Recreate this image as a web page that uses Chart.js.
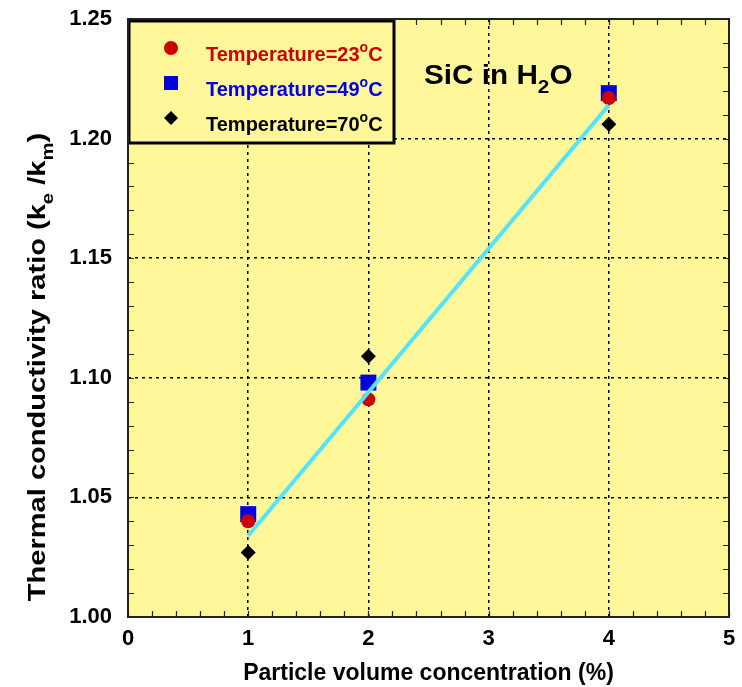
<!DOCTYPE html>
<html>
<head>
<meta charset="utf-8">
<script src="https://cdn.jsdelivr.net/npm/chart.js@4"></script>
<style>
  html, body { margin: 0; padding: 0; background: #fff; }
  #wrap { width: 742px; height: 687px; }
</style>
</head>
<body>
<div id="wrap"><canvas id="chart" width="742" height="687"></canvas></div>
<script>
// concentrations (%) and ratios k_e/k_m
const concentrations = [1, 2, 4];
const temp23 = [1.040, 1.091, 1.217];
const temp49 = [1.043, 1.098, 1.219];
const temp70 = [1.027, 1.109, 1.206];
const fitX = [1, 4];
const fitY = [1.034, 1.214];
const xTicks = [0, 1, 2, 3, 4, 5];
const yTicks = [1.00, 1.05, 1.10, 1.15, 1.20, 1.25];

const FONT = "'Liberation Sans', Arial, sans-serif";
const YELLOW = '#fff799';

function pts(xs, ys) {
  return xs.map((x, i) => ({x: x, y: ys[i]}));
}

// text with sub/superscript pieces: parts = [[text, shift]], shift: 0 normal, 1 sup, -1 sub
function richWidth(ctx, parts, size) {
  let w = 0;
  parts.forEach(p => {
    ctx.font = 'bold ' + (p[1] ? size * 0.7 : size) + 'px ' + FONT;
    w += ctx.measureText(p[0]).width;
  });
  return w;
}
function drawRich(ctx, parts, x, y, size, sx) {
  ctx.save();
  ctx.translate(x, y);
  ctx.scale(sx || 1, 1);
  let cx = 0;
  parts.forEach(p => {
    const s = p[1] ? size * 0.7 : size;
    ctx.font = 'bold ' + s + 'px ' + FONT;
    const dy = p[1] === 1 ? -size * 0.45 : (p[1] === -1 ? size * 0.35 : 0);
    ctx.fillText(p[0], cx, dy);
    cx += ctx.measureText(p[0]).width;
  });
  ctx.restore();
}

const decor = {
  id: 'decor',
  beforeDraw(chart) {
    const {ctx, chartArea: a} = chart;
    ctx.save();
    ctx.fillStyle = YELLOW;
    ctx.fillRect(a.left, a.top, a.right - a.left, a.bottom - a.top);
    ctx.restore();
  },
  beforeDatasetsDraw(chart) {
    const {ctx, chartArea: a, scales: {x, y}} = chart;
    ctx.save();
    // minor inward ticks
    ctx.strokeStyle = '#222';
    ctx.lineWidth = 1.2;
    ctx.beginPath();
    for (let v = 0; v <= 5.0001; v += 0.2) {
      const px = Math.round(x.getPixelForValue(v)) + 0.5;
      ctx.moveTo(px, a.bottom); ctx.lineTo(px, a.bottom - 6);
      ctx.moveTo(px, a.top); ctx.lineTo(px, a.top + 6);
    }
    for (let v = 1.0; v <= 1.25001; v += 0.01) {
      const py = Math.round(y.getPixelForValue(v)) + 0.5;
      ctx.moveTo(a.left, py); ctx.lineTo(a.left + 6, py);
      ctx.moveTo(a.right, py); ctx.lineTo(a.right - 6, py);
    }
    ctx.stroke();
    // legend box
    const bx = a.left + 1, by = a.top + 2, bw = 265, bh = 122;
    ctx.fillStyle = YELLOW;
    ctx.fillRect(bx, by, bw, bh);
    ctx.lineWidth = 3;
    ctx.strokeStyle = '#000';
    ctx.strokeRect(bx, by, bw, bh);
    const rows = [
      {t: '23', c: '#cc0000', m: 'circle'},
      {t: '49', c: '#0000dd', m: 'rect'},
      {t: '70', c: '#000000', m: 'diamond'}
    ];
    rows.forEach((r, i) => {
      const cy = a.top + 29 + i * 35;
      const mx = a.left + 43;
      ctx.fillStyle = r.c;
      ctx.beginPath();
      if (r.m === 'circle') ctx.arc(mx, cy, 7, 0, Math.PI * 2);
      else if (r.m === 'rect') ctx.rect(mx - 7, cy - 7, 14, 14);
      else { ctx.moveTo(mx, cy - 7); ctx.lineTo(mx + 7, cy); ctx.lineTo(mx, cy + 7); ctx.lineTo(mx - 7, cy); ctx.closePath(); }
      ctx.fill();
      ctx.textBaseline = 'alphabetic';
      ctx.textAlign = 'left';
      drawRich(ctx, [['Temperature=' + r.t, 0], ['o', 1], ['C', 0]], a.left + 78, cy + 13, 20, 1.0);
    });
    // title
    ctx.fillStyle = '#000';
    drawRich(ctx, [['SiC in H', 0], ['2', -1], ['O', 0]], 424, 84, 27, 1.1);
    ctx.restore();
  },
  afterDraw(chart) {
    const {ctx, chartArea: a} = chart;
    ctx.save();
    ctx.strokeStyle = '#222';
    ctx.lineWidth = 2;
    ctx.strokeRect(a.left, a.top, a.right - a.left, a.bottom - a.top);
    // y axis title
    ctx.translate(45, 367);
    ctx.rotate(-Math.PI / 2);
    ctx.fillStyle = '#000';
    ctx.textBaseline = 'alphabetic';
    const parts = [['Thermal conductivity ratio (k', 0], ['e', -1], [' /k', 0], ['m', -1], [')', 0]];
    const size = 24, sx = 1.21;
    const w = richWidth(ctx, parts, size) * sx;
    drawRich(ctx, parts, -w / 2, 0, size, sx);
    ctx.restore();
  }
};

new Chart(document.getElementById('chart'), {
  type: 'scatter',
  data: {
    datasets: [
      {
        type: 'line',
        data: pts(fitX, fitY),
        borderColor: '#55e3ff',
        borderWidth: 4,
        pointRadius: 0,
        fill: false
      },
      {
        data: pts(concentrations, temp23),
        pointStyle: 'circle',
        pointRadius: 7,
        backgroundColor: '#cc0000',
        borderWidth: 0
      },
      {
        data: pts(concentrations, temp49),
        pointStyle: 'rect',
        pointRadius: 11.3,
        backgroundColor: '#0000dd',
        borderWidth: 0
      },
      {
        data: pts(concentrations, temp70),
        pointStyle: 'rectRot',
        pointRadius: 7.5,
        backgroundColor: '#000000',
        borderWidth: 0
      }
    ]
  },
  options: {
    responsive: false,
    animation: false,
    layout: { padding: { top: 19, right: 13, left: 0, bottom: 0 } },
    plugins: { legend: { display: false }, tooltip: { enabled: false } },
    scales: {
      x: {
        type: 'linear',
        min: 0, max: 5,
        afterBuildTicks: s => { s.ticks = xTicks.map(v => ({value: v})); },
        afterFit: s => { s.height = 70; s.paddingLeft = 0; s.paddingRight = 0; },
        grid: {
          drawTicks: false,
          color: ctx => (ctx.tick && ctx.tick.value > 0 && ctx.tick.value < 5) ? '#000' : 'rgba(0,0,0,0)',
          lineWidth: 1.5
        },
        border: { display: false, dash: [3, 4] },
        ticks: {
          padding: 9,
          color: '#000',
          font: { family: FONT, size: 22, weight: 'bold' },
          callback: v => String(v)
        },
        title: {
          display: true,
          text: 'Particle volume concentration (%)',
          color: '#000',
          font: { family: FONT, size: 23, weight: 'bold' },
          padding: { top: 14, bottom: 0 }
        }
      },
      y: {
        type: 'linear',
        min: 1.0, max: 1.25,
        afterBuildTicks: s => { s.ticks = yTicks.map(v => ({value: v})); },
        afterFit: s => { s.width = 128; s.paddingTop = 0; s.paddingBottom = 0; },
        grid: {
          drawTicks: false,
          color: ctx => (ctx.tick && ctx.tick.value > 1.001 && ctx.tick.value < 1.249) ? '#000' : 'rgba(0,0,0,0)',
          lineWidth: 1.5
        },
        border: { display: false, dash: [3, 4] },
        ticks: {
          padding: 16,
          color: '#000',
          font: { family: FONT, size: 22, weight: 'bold' },
          callback: v => v.toFixed(2)
        }
      }
    }
  },
  plugins: [decor]
});
</script>
</body>
</html>
